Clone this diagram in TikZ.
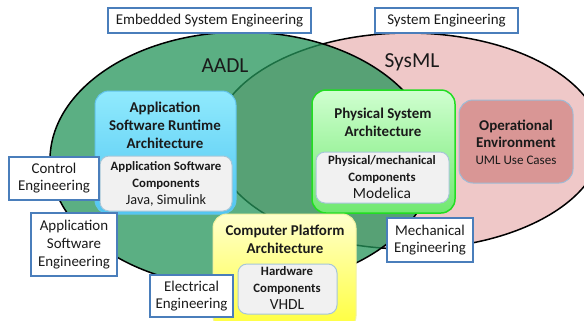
\documentclass[tikz,border=0pt]{standalone}
\usepackage{fontspec}
\setmainfont{Carlito}
\usetikzlibrary{shadings}
\definecolor{pinkfill}{HTML}{EFC8C8}
\definecolor{greenfill}{HTML}{25955A}
\definecolor{lblue}{HTML}{4A7EBB}
\definecolor{txt}{HTML}{1A1A1A}
\definecolor{bluetop}{HTML}{90EAFD}
\definecolor{bluebot}{HTML}{50C6F2}
\definecolor{blueedge}{HTML}{62C4EC}
\definecolor{greentop}{HTML}{D0FFD0}
\definecolor{greenbot}{HTML}{70E870}
\definecolor{greenedge}{HTML}{22DD22}
\definecolor{yeltop}{HTML}{FFFFCC}
\definecolor{yelbot}{HTML}{FFFF3A}
\definecolor{yeledge}{HTML}{F2F2A0}
\definecolor{redfill}{HTML}{D99695}
\definecolor{rededge}{HTML}{9EBBD6}
\definecolor{innerfill}{HTML}{F1F1F1}
\definecolor{inneredge}{HTML}{A6C6D8}
\newcommand{\smb}{\bfseries\fontsize{12.8}{17}\selectfont}
\newcommand{\rg}[1]{\mdseries\fontsize{#1}{18}\selectfont}
\tikzset{
  lbl/.style={draw=lblue, line width=1.5bp, fill=white, align=center, inner sep=0pt,
    text=txt, font=\fontsize{15}{17}\selectfont},
  bigbox/.style={rectangle, rounded corners=14bp, inner sep=0pt, line width=1bp},
  innerbox/.style={rectangle, rounded corners=9bp, inner sep=0pt, fill=innerfill, draw=inneredge, line width=1bp},
  ttl/.style={align=center, text=txt, inner sep=0pt, font=\bfseries\fontsize{15}{18}\selectfont},
  itx/.style={align=center, text=txt, inner sep=0pt},
  lang/.style={text=txt, inner sep=0pt, font=\fontsize{21.5}{24}\selectfont}
}
\begin{document}
\begin{tikzpicture}[x=1bp,y=-1bp]
\clip (0,0) rectangle (584,320);
\fill[white] (0,0) rectangle (584,320);
% ellipses
\draw[fill=pinkfill, line width=1.5bp] (408,141) ellipse [x radius=194bp, y radius=108bp];
\fill[greenfill, fill opacity=0.75] (242,160) ellipse [x radius=192bp, y radius=128bp];
\draw[line width=1.5bp] (242,160) ellipse [x radius=192bp, y radius=128bp];
\node[lang] (aadl) at (225,66) {AADL};
\node[lang] (sysml) at (412,62) {SysML};
% blue box
\node[bigbox, top color=bluetop, bottom color=bluebot, draw=blueedge, minimum width=141bp, minimum height=123bp] (appsw) at (165.5,152.5) {};
\node[ttl] (appswt) at (165,125) {Application\\Software Runtime\\Architecture};
\node[innerbox, minimum width=132bp, minimum height=55bp] (appcomp) at (166,183.5) {};
\node[itx, font=\smb] (appcompt) at (166,184) {Application Software\\Components\\\rg{14.3}Java, Simulink};
% green box
\node[bigbox, top color=greentop, bottom color=greenbot, draw=greenedge, line width=1.5bp, minimum width=143bp, minimum height=123bp] (phys) at (383.5,151.5) {};
\node[ttl] (physt) at (383,122) {Physical System\\Architecture};
\node[innerbox, minimum width=133bp, minimum height=51bp] (physcomp) at (382.5,177.5) {};
\node[itx, font=\smb] (physcompt) at (382,177) {Physical/mechanical\\Components\\\rg{15.5}Modelica};
% red box
\node[bigbox, fill=redfill, draw=rededge, minimum width=114bp, minimum height=83bp] (oper) at (516,141.5) {};
\node[itx, font=\bfseries\fontsize{15}{17}\selectfont] (opert) at (516,142) {Operational\\Environment\\\rg{13.1}UML Use Cases};
% yellow box
\node[bigbox, top color=yeltop, bottom color=yelbot, draw=yeledge, minimum width=143bp, minimum height=116bp] (comp) at (284.5,272) {};
\node[ttl] (compt) at (285,239) {Computer Platform\\Architecture};
\node[innerbox, minimum width=99bp, minimum height=50bp] (hw) at (287.5,289) {};
\node[itx, font=\smb] (hwt) at (287,288) {Hardware\\Components\\\rg{15.5}VHDL};
% labels
\node[lbl, minimum width=203bp, minimum height=25bp] (ese) at (209.5,20.5) {Embedded System Engineering};
\node[lbl, minimum width=143bp, minimum height=25bp] (se) at (446.5,20.5) {System Engineering};
\node[lbl, minimum width=90bp, minimum height=43bp] (ce) at (54,178.5) {Control\\Engineering};
\node[lbl, minimum width=86bp, minimum height=63bp, font=\fontsize{15}{18}\selectfont] (ase) at (74,244.5) {Application\\Software\\Engineering};
\node[lbl, minimum width=83bp, minimum height=42bp] (ee) at (191.5,296) {Electrical\\Engineering};
\node[lbl, minimum width=86bp, minimum height=44bp] (me) at (430,240) {Mechanical\\Engineering};
\end{tikzpicture}
\end{document}
